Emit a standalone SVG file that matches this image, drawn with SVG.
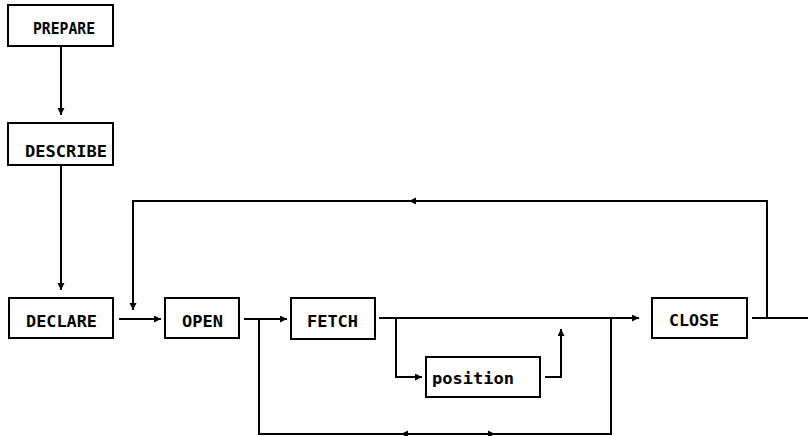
<svg xmlns="http://www.w3.org/2000/svg" width="808" height="436" viewBox="0 0 808 436">
<style>
.box{fill:#fff;stroke:#000;stroke-width:2}
.lbl{font-family:"DejaVu Sans Mono","Liberation Mono",monospace;font-weight:bold;font-size:16px;fill:#000}
.ln{fill:none;stroke:#000;stroke-width:2}
.ah{fill:#000;stroke:none}
</style>
<defs>
<marker id="arr" markerUnits="userSpaceOnUse" markerWidth="8" markerHeight="8" refX="7" refY="3.5" orient="auto">
<path d="M0,0 L7,3.5 L0,7 z" fill="#000"/>
</marker>
</defs>
<g id="connectors">
<path class="ln" d="M61,46 V115" marker-end="url(#arr)"/>
<path class="ln" d="M61,165 V290" marker-end="url(#arr)"/>
<path class="ln" d="M119,319 H161" marker-end="url(#arr)"/>
<path class="ln" d="M752,318 H808 M767,318 V201 H133 V310" marker-end="url(#arr)"/>
<polygon class="ah" points="409,201 416,197.5 416,204.5"/>
<path class="ln" d="M244,319 H287" marker-end="url(#arr)"/>
<path class="ln" d="M259,319 V434 H611 V318"/>
<polygon class="ah" points="401,434 408,430.5 408,437.5"/>
<polygon class="ah" points="495,434 488,430.5 488,437.5"/>
<path class="ln" d="M379,318 H639" marker-end="url(#arr)"/>
<path class="ln" d="M396,318 V377 H422" marker-end="url(#arr)"/>
<path class="ln" d="M545,377 H561 V329" marker-end="url(#arr)"/>
</g>
<g id="prepare"><rect class="box" x="8" y="5" width="105" height="41"/><text class="lbl" x="33" y="34" textLength="62" lengthAdjust="spacingAndGlyphs">PREPARE</text></g>
<g id="describe"><rect class="box" x="8" y="123" width="105" height="42"/><text class="lbl" x="25" y="157" textLength="82" lengthAdjust="spacingAndGlyphs">DESCRIBE</text></g>
<g id="declare"><rect class="box" x="9" y="298" width="104" height="40"/><text class="lbl" x="26" y="327" textLength="71" lengthAdjust="spacingAndGlyphs">DECLARE</text></g>
<g id="open"><rect class="box" x="165" y="298" width="74" height="40"/><text class="lbl" x="182" y="327" textLength="41" lengthAdjust="spacingAndGlyphs">OPEN</text></g>
<g id="fetch"><rect class="box" x="291" y="298" width="84" height="41"/><text class="lbl" x="307" y="327" textLength="51" lengthAdjust="spacingAndGlyphs">FETCH</text></g>
<g id="position"><rect class="box" x="426" y="357" width="114" height="40"/><text class="lbl" x="432" y="384" textLength="82" lengthAdjust="spacingAndGlyphs">position</text></g>
<g id="close"><rect class="box" x="652" y="298" width="95" height="40"/><text class="lbl" x="669" y="326" textLength="50" lengthAdjust="spacingAndGlyphs">CLOSE</text></g>
</svg>
